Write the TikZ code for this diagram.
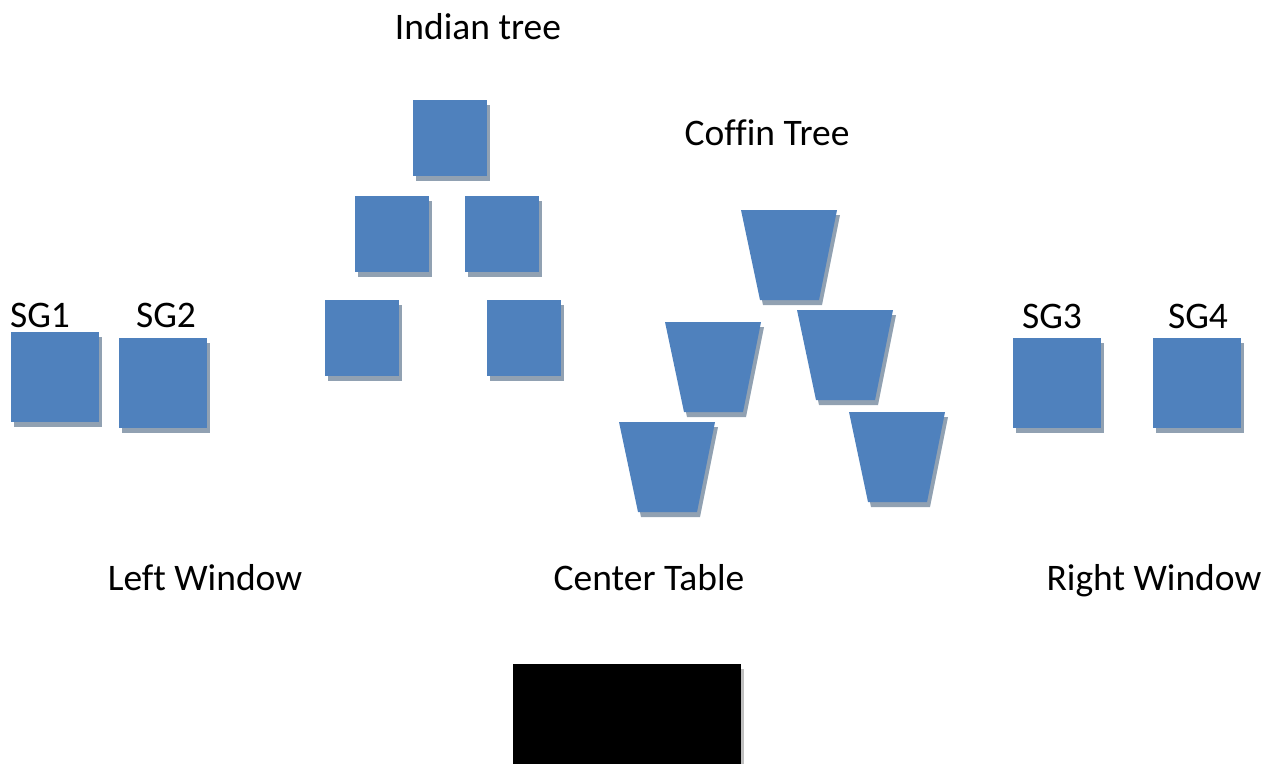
\documentclass[tikz,border=0pt]{standalone}
\usepackage{fontspec}
\setmainfont[Ligatures=NoCommon]{Carlito}
\usetikzlibrary{shadows,calc}
\definecolor{boxblue}{HTML}{4F81BD}
\definecolor{shadowcol}{RGB}{145,161,178}
\definecolor{tableshadow}{RGB}{192,192,192}
\tikzset{
  label text/.style={font=\fontsize{37.5}{40}\selectfont, anchor=base, inner sep=0pt, text=black},
  bluebox/.style={fill=boxblue, draw=none, inner sep=0pt, anchor=north west,
    general shadow={fill=shadowcol, shadow xshift=3pt, shadow yshift=-5pt}},
  sgbox/.style={bluebox, minimum width=88pt, minimum height=90pt},
  treebox/.style={bluebox, minimum width=74pt, minimum height=76pt},
}
\newcommand{\coffinshape}[3]{%
  \fill[shadowcol] ($(#2,#3)+(3,5)$) -- ++(96,0) -- ++(-18,90) -- ++(-59,0) -- cycle;
  \fill[boxblue] (#2,#3) coordinate (#1) -- ++(96,0) -- ++(-18,90) -- ++(-59,0) -- cycle;
}
\begin{document}
\begin{tikzpicture}[x=1pt,y=-1pt]
\useasboundingbox (0,0) rectangle (1265,763);
% labels
\node[label text] (indian) at (478,39) {Indian tree};
\node[label text] (coffin) at (767,145) {Coffin Tree};
\node[label text] (sg1t) at (40,327) {SG1};
\node[label text] (sg2t) at (166,327) {SG2};
\node[label text] (sg3t) at (1052,328) {SG3};
\node[label text] (sg4t) at (1198,328) {SG4};
\node[label text] (leftw) at (205,590) {Left Window};
\node[label text] (centert) at (649,590) {Center Table};
\node[label text] (rightw) at (1154,590) {Right Window};
% window boxes
\node[sgbox] (sg1) at (11,332) {};
\node[sgbox] (sg2) at (119,338) {};
\node[sgbox] (sg3) at (1013,338) {};
\node[sgbox] (sg4) at (1153,338) {};
% Indian tree
\node[treebox] (it1) at (413,100) {};
\node[treebox] (it2) at (355,196) {};
\node[treebox] (it3) at (465,196) {};
\node[treebox] (it4) at (325,300) {};
\node[treebox] (it5) at (487,300) {};
% Coffin tree
\coffinshape{ct1}{741}{210}
\coffinshape{ct2}{665}{322}
\coffinshape{ct3}{797}{310}
\coffinshape{ct4}{619}{422}
\coffinshape{ct5}{849}{412}
% table
\node[fill=black, inner sep=0pt, anchor=north west, minimum width=228pt, minimum height=110pt,
  general shadow={fill=tableshadow, shadow xshift=3pt, shadow yshift=-5pt}] (table) at (513,664) {};
\end{tikzpicture}
\end{document}
